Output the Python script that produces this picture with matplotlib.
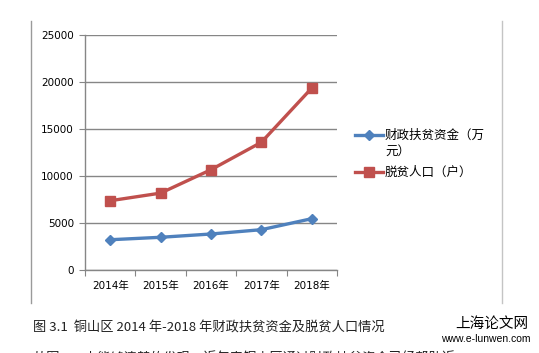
import matplotlib
matplotlib.use("Agg")
import matplotlib.pyplot as plt
from matplotlib.lines import Line2D

# --- data ---
years = ['2014年', '2015年', '2016年', '2017年', '2018年']
funds = [3220, 3480, 3830, 4290, 5460]          # 财政扶贫资金（万元）
households = [7370, 8180, 10670, 13590, 19360]  # 脱贫人口（户）
y_ticks = [0, 5000, 10000, 15000, 20000, 25000]

blue = '#4F81BD'
red = '#C0504D'
grid_gray = '#868686'

plt.rcParams['font.family'] = ['DejaVu Sans', 'Noto Sans CJK SC']

W, H = 539, 353
fig = plt.figure(figsize=(W / 100, H / 100), dpi=100)

def fx(px):
    return px / W

def fy(py):
    return 1 - py / H

ax = fig.add_axes([fx(85), fy(270), fx(337) - fx(85), fy(35) - fy(270)])
x = list(range(len(years)))

ax.plot(x, funds, color=blue, lw=2.4, marker='D', ms=5, mec=blue, mfc=blue, zorder=3)
ax.plot(x, households, color=red, lw=2.4, marker='s', ms=7, mec=red, mfc=red, zorder=3)

ax.set_xlim(-0.5, len(years) - 0.5)
ax.set_ylim(0, 25000)
ax.set_yticks(y_ticks)
ax.set_yticklabels([str(v) for v in y_ticks], fontsize=7.5)
ax.yaxis.grid(True, color=grid_gray, lw=1)
ax.set_axisbelow(True)

# category labels between boundary ticks
ax.set_xticks([i - 0.5 for i in range(len(years) + 1)])
ax.set_xticklabels([])
ax.set_xticks(x, minor=True)
ax.set_xticklabels(years, minor=True, fontsize=7.5)
ax.tick_params(axis='x', which='minor', length=0, pad=8)
ax.tick_params(axis='x', which='major', length=4, color=grid_gray)
ax.tick_params(axis='y', length=4, color=grid_gray, pad=4)

for s in ['top', 'right']:
    ax.spines[s].set_visible(False)
for s in ['left', 'bottom']:
    ax.spines[s].set_color(grid_gray)
    ax.spines[s].set_linewidth(1)

# chart frame (side edges only visible)
fig.add_artist(Line2D([fx(31), fx(31)], [fy(21), fy(303)], color='#9a9a9a', lw=1))
fig.add_artist(Line2D([fx(502), fx(502)], [fy(21), fy(303)], color='#c4c4c4', lw=1))

# legend drawn by hand so the handle sits on the first text line
fig.add_artist(Line2D([fx(355), fx(383)], [fy(135), fy(135)], color=blue, lw=2.4))
fig.add_artist(Line2D([fx(369)], [fy(135)], color=blue, marker='D', ms=5, lw=0))
fig.text(fx(385), fy(135), '财政扶贫资金（万', fontsize=9, va='center', ha='left',
         family=['Noto Sans CJK SC'])
fig.text(fx(385), fy(151), '元）', fontsize=9, va='center', ha='left',
         family=['Noto Sans CJK SC'])
fig.add_artist(Line2D([fx(355), fx(383)], [fy(172), fy(172)], color=red, lw=2.4))
fig.add_artist(Line2D([fx(369)], [fy(172)], color=red, marker='s', ms=7, lw=0))
fig.text(fx(385), fy(172), '脱贫人口（户）', fontsize=9, va='center', ha='left',
         family=['Noto Sans CJK SC'])

# caption and page text
fig.text(fx(33), fy(327), '图 3.1  铜山区 2014 年-2018 年财政扶贫资金及脱贫人口情况',
         fontsize=9.5, va='center', ha='left', family=['Noto Sans CJK SC', 'DejaVu Sans'],
         color='#222222')
fig.text(fx(33), fy(359), '从图 3.1 中能够清楚的发现，近年来铜山区通过财政扶贫资金已经帮助近',
         fontsize=9.5, va='center', ha='left', family=['Noto Sans CJK SC', 'DejaVu Sans'],
         color='#222222')
fig.text(fx(492), fy(324), '上海论文网', fontsize=10.5, va='center', ha='center',
         family=['Noto Sans CJK SC'])
fig.text(fx(486), fy(339), 'www.e-lunwen.com', fontsize=7.5, va='center', ha='center',
         family=['Liberation Sans'])

fig.savefig('out.png', dpi=100)
